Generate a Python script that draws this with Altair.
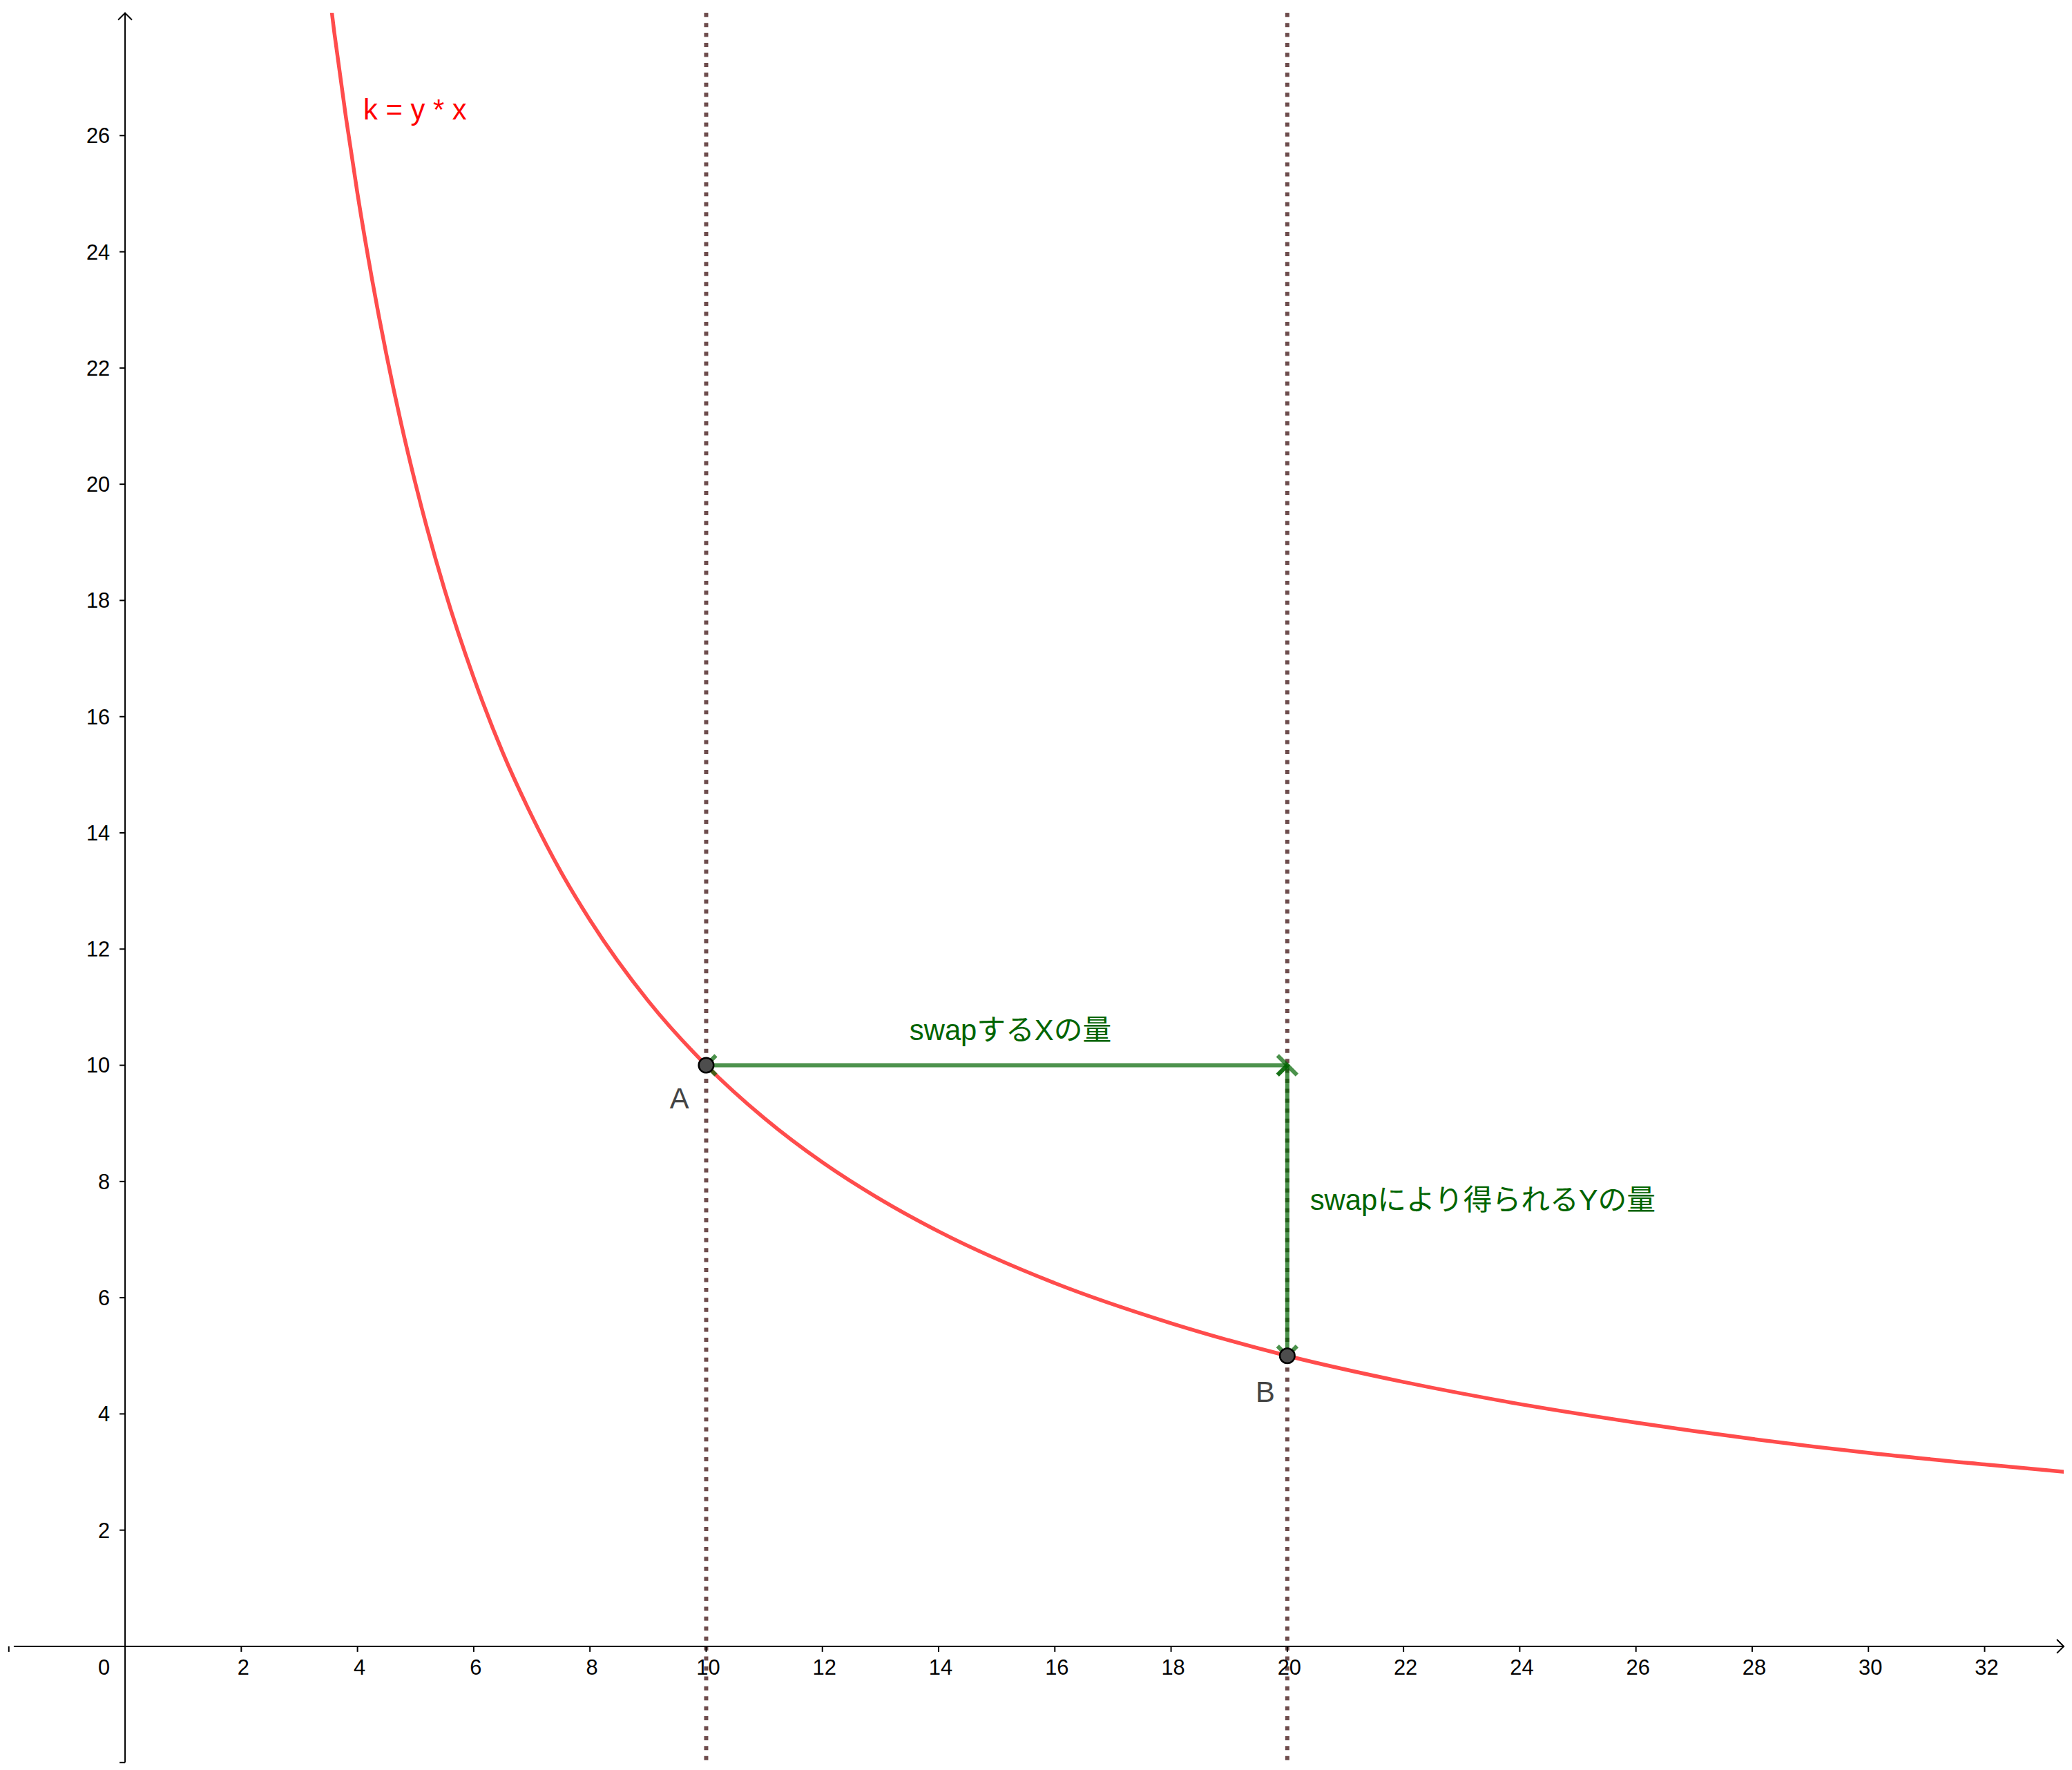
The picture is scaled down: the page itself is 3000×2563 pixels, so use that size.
import altair as alt
import pandas as pd

# ---- data ----
curve_x = [3.4, 3.6, 3.8, 4.0, 4.25, 4.5, 4.75, 5.0, 5.5, 6.0, 6.5, 7.0, 7.5, 8.0, 9.0, 10.0,
           11.0, 12.0, 13.0, 14.0, 16.0, 18.0, 20.0, 22.0, 24.0, 26.0, 28.0, 30.0, 32.0, 33.5]
curve_y = [29.41, 27.78, 26.32, 25.0, 23.53, 22.22, 21.05, 20.0, 18.18, 16.67, 15.38, 14.29, 13.33,
           12.5, 11.11, 10.0, 9.09, 8.33, 7.69, 7.14, 6.25, 5.56, 5.0, 4.55, 4.17, 3.85, 3.57, 3.33,
           3.13, 2.99]

guide_x = [10, 20]

point_names = ["A", "B"]
point_x = [10, 20]
point_y = [10, 5]

x_ticks = [-2, 2, 4, 6, 8, 10, 12, 14, 16, 18, 20, 22, 24, 26, 28, 30, 32]
x_tick_labels = [2, 4, 6, 8, 10, 12, 14, 16, 18, 20, 22, 24, 26, 28, 30, 32]
y_ticks = [-2, 2, 4, 6, 8, 10, 12, 14, 16, 18, 20, 22, 24, 26]
y_tick_labels = [2, 4, 6, 8, 10, 12, 14, 16, 18, 20, 22, 24, 26]

PX_PER_UNIT = 84.59
W, H = 2984, 2547
x_domain = [-1.915, -1.915 + W / PX_PER_UNIT]
y_domain = [28.11 - H / PX_PER_UNIT, 28.11]

curve_label = "k = y * x"
curve_label_pos = (4.1, 26.28)
h_label = "swapするXの量"
v_label = "swapにより得られるYの量"

# ---- styles ----
LATIN = "Liberation Sans"
MIXED = "Liberation Sans, Noto Sans CJK JP"
GREEN = "#006400"
RED = "#FF0000"
BROWN = "#6D4C4C"

xs = alt.Scale(domain=x_domain, nice=False, zero=False)
ys = alt.Scale(domain=y_domain, nice=False, zero=False)


def X(f):
    return alt.X(f"{f}:Q", scale=xs, axis=None)


def Y(f):
    return alt.Y(f"{f}:Q", scale=ys, axis=None)


curve_df = pd.DataFrame({"x": curve_x, "y": curve_y})
guide_df = pd.DataFrame({"x": guide_x})
pts_df = pd.DataFrame({"name": point_names, "x": point_x, "y": point_y})
xt_df = pd.DataFrame({"v": x_ticks, "z": [0] * len(x_ticks)})
yt_df = pd.DataFrame({"v": y_ticks, "z": [0] * len(y_ticks)})
xl_df = pd.DataFrame({"v": x_tick_labels, "z": [0] * len(x_tick_labels),
                      "t": [str(v) for v in x_tick_labels]})
yl_df = pd.DataFrame({"v": y_tick_labels, "z": [0] * len(y_tick_labels),
                      "t": [str(v) for v in y_tick_labels]})
zero_df = pd.DataFrame({"v": [0], "z": [0], "t": ["0"]})
xarrow_df = pd.DataFrame({"x": [x_domain[1]], "y": [0]})
yarrow_df = pd.DataFrame({"x": [0], "y": [y_domain[1]]})

corner = (point_x[1], point_y[0])
hvec_df = pd.DataFrame({"x": [point_x[0]], "x2": [corner[0]], "y": [point_y[0]]})
vvec_df = pd.DataFrame({"x": [corner[0]], "y": [corner[1]], "y2": [point_y[1]]})

# guides (dotted)
guides = alt.Chart(guide_df).mark_rule(color=BROWN, strokeWidth=6, strokeDash=[6, 8.5]).encode(
    x=X("x"))

# axes
x_axis = alt.Chart(zero_df).mark_rule(color="black", strokeWidth=2).encode(y=Y("z"))
y_axis = alt.Chart(zero_df).mark_rule(color="black", strokeWidth=2).encode(x=X("z"))

x_tick_marks = alt.Chart(xt_df).mark_point(shape="M0,0L0,1", size=256, filled=False,
                                           stroke="black", strokeWidth=2, opacity=1).encode(
    x=X("v"), y=Y("z"))
y_tick_marks = alt.Chart(yt_df).mark_point(shape="M0,0L-1,0", size=256, filled=False,
                                           stroke="black", strokeWidth=2, opacity=1).encode(
    x=X("z"), y=Y("v"))

x_labels = alt.Chart(xl_df).mark_text(align="center", baseline="alphabetic", dx=3, dy=41,
                                      fontSize=31, font=LATIN, color="black").encode(
    x=X("v"), y=Y("z"), text="t:N")
y_labels = alt.Chart(yl_df).mark_text(align="right", baseline="middle", dx=-22, dy=2,
                                      fontSize=31, font=LATIN, color="black").encode(
    x=X("z"), y=Y("v"), text="t:N")
zero_label = alt.Chart(zero_df).mark_text(align="right", baseline="alphabetic", dx=-22, dy=41,
                                          fontSize=31, font=LATIN, color="black").encode(
    x=X("v"), y=Y("z"), text="t:N")

arrow_style = dict(filled=False, stroke="black", strokeWidth=2, opacity=1, size=400)
x_arrow = alt.Chart(xarrow_df).mark_point(shape="M-1,-1L0,0L-1,1", **arrow_style).encode(
    x=X("x"), y=Y("y"))
y_arrow = alt.Chart(yarrow_df).mark_point(shape="M-1,1L0,0L1,1", **arrow_style).encode(
    x=X("x"), y=Y("y"))

# curve
curve = alt.Chart(curve_df).mark_line(color=RED, opacity=0.7, strokeWidth=5.5,
                                      clip=True, interpolate="monotone").encode(
    x=X("x"), y=Y("y"))

# vectors
vec_style = dict(color=GREEN, opacity=0.7, strokeWidth=6)
hvec = alt.Chart(hvec_df).mark_rule(**vec_style).encode(x=X("x"), x2="x2:Q", y=Y("y"))
vvec = alt.Chart(vvec_df).mark_rule(**vec_style).encode(x=X("x"), y=Y("y"), y2="y2:Q")

head_style = dict(filled=False, stroke=GREEN, strokeWidth=6, opacity=0.7, size=800)
head_left = alt.Chart(hvec_df).mark_point(shape="M1,-1L0,0L1,1", **head_style).encode(
    x=X("x"), y=Y("y"))
head_right = alt.Chart(hvec_df).mark_point(shape="M-1,-1L0,0L-1,1", **head_style).encode(
    x=X("x2"), y=Y("y"))
head_up = alt.Chart(vvec_df).mark_point(shape="M-1,1L0,0L1,1", **head_style).encode(
    x=X("x"), y=Y("y"))
head_down = alt.Chart(vvec_df).mark_point(shape="M-1,-1L0,0L1,-1", **head_style).encode(
    x=X("x"), y=Y("y2"))

# points
points = alt.Chart(pts_df).mark_point(filled=True, fill="#4D4D4D", stroke="black",
                                      strokeWidth=2.5, size=470, opacity=1).encode(
    x=X("x"), y=Y("y"))
label_a = alt.Chart(pts_df.iloc[[0]].reset_index(drop=True)).mark_text(
    align="center", baseline="alphabetic", dx=-39, dy=63, fontSize=42, font=LATIN,
    color="#444444").encode(x=X("x"), y=Y("y"), text="name:N")
label_b = alt.Chart(pts_df.iloc[[1]].reset_index(drop=True)).mark_text(
    align="center", baseline="alphabetic", dx=-32, dy=67, fontSize=42, font=LATIN,
    color="#444444").encode(x=X("x"), y=Y("y"), text="name:N")

# text labels
k_df = pd.DataFrame({"x": [curve_label_pos[0]], "y": [curve_label_pos[1]], "t": [curve_label]})
k_text = alt.Chart(k_df).mark_text(
    align="left", baseline="alphabetic", fontSize=42, font=LATIN, color=RED).encode(
    x=X("x"), y=Y("y"), text="t:N")

h_text_df = pd.DataFrame({"x": [(point_x[0] + corner[0]) / 2], "y": [point_y[0]], "t": [h_label]})
h_text = alt.Chart(h_text_df).mark_text(
    align="center", baseline="alphabetic", dx=20, dy=-37, fontSize=42, font=MIXED,
    color=GREEN).encode(x=X("x"), y=Y("y"), text="t:N")

v_text_df = pd.DataFrame({"x": [corner[0]], "y": [(corner[1] + point_y[1]) / 2], "t": [v_label]})
v_text = alt.Chart(v_text_df).mark_text(
    align="left", baseline="alphabetic", dx=33, dy=-1, fontSize=42, font=MIXED,
    color=GREEN).encode(x=X("x"), y=Y("y"), text="t:N")

chart = alt.layer(
    guides, x_axis, y_axis, x_tick_marks, y_tick_marks, x_labels, y_labels, zero_label,
    x_arrow, y_arrow, curve, hvec, vvec, head_left, head_right, head_up, head_down,
    points, label_a, label_b, k_text, h_text, v_text
).properties(
    width=W, height=H, padding=0, background="white"
).configure_view(strokeWidth=0)

chart.save("out.html", embed_options={"renderer": "svg", "actions": False})
